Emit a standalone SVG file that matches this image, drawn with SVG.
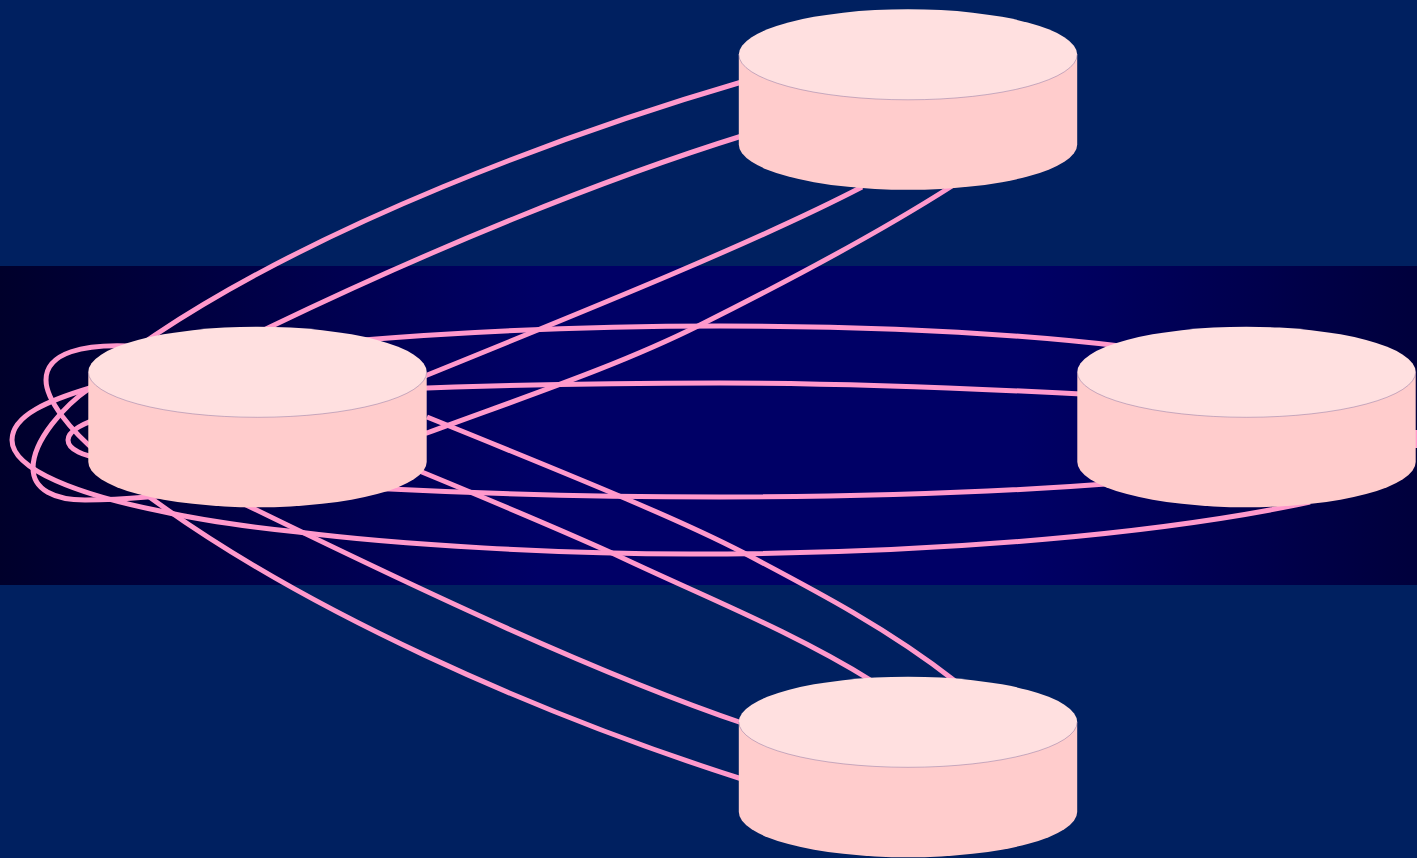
<svg xmlns="http://www.w3.org/2000/svg" width="1417" height="858" viewBox="0 0 1417 858">
<style>
.edge{fill:none;stroke:#ff99cc;stroke-width:5}
.side{fill:#ffcccc}
.top{fill:#ffe0e0}
.rim{fill:none;stroke:#5a4a8a;stroke-width:.35}
</style>
<defs>
<linearGradient id="band" x1="0" x2="1" y1="0" y2="0">
<stop offset="0" stop-color="#00002b"/><stop offset=".38" stop-color="#000066"/><stop offset=".72" stop-color="#000066"/><stop offset="1" stop-color="#00003c"/>
</linearGradient>
<g id="cyl">
<path class="side" d="M-169.200,0V90A169.200,45.300 0 0 0 169.200,90V0Z"/>
<ellipse class="top" cx="0" cy="0" rx="169.200" ry="45.300"/>
<path class="rim" d="M-169.200,0A169.200,45.300 0 0 0 169.200,0"/>
</g>
</defs>
<rect width="1417" height="858" fill="#002060"/>
<rect y="266" width="1417" height="319" fill="url(#band)"/>
<g id="connectors">
<path class="edge" d="M745,81C560,135 320,225 155,335C125,355 105,375 90,388C65,405 33,440 33,468C33,490 55,500 85,500C105,500 125,499 147,497C220,490 300,486 390,489C490,494 600,497 720,497C860,497 990,493 1120,483"/>
<path class="edge" d="M745,135C600,180 430,250 270,327C240,342 220,350 200,360"/>
<path class="edge" d="M862,187C760,240 600,305 410,382"/>
<path class="edge" d="M952,186C880,232 800,275 700,325C620,365 530,395 427,433C300,405 150,400 110,415C85,422 68,430 68,440C68,450 85,456 100,458"/>
<path class="edge" d="M1120,346C1000,332 860,326 720,326C600,326 480,330 350,341"/>
<path class="edge" d="M130,346C85,344 46,352 46,380C46,400 70,430 100,455"/>
<path class="edge" d="M1100,395C950,387 830,383 720,383C600,383 500,385 400,389"/>
<path class="edge" d="M90,388C50,400 12,415 12,440C12,470 80,495 160,511C200,520 240,526 298,532C400,545 560,554 690,554C950,554 1170,532 1310,502"/>
<path class="edge" d="M955,681C890,630 820,593 744,553C690,525 620,495 427,417"/>
<path class="edge" d="M872,681C790,630 700,595 612,553C550,525 490,500 400,463"/>
<path class="edge" d="M745,724C600,675 420,590 240,502"/>
<path class="edge" d="M745,780C540,715 300,610 140,490"/>
<path class="edge" d="M1417,430V448"/>
</g>
<g id="node-top"><use href="#cyl" x="908" y="54.500"/></g>
<g id="node-left"><use href="#cyl" x="257.500" y="372"/></g>
<g id="node-right"><use href="#cyl" x="1246.500" y="372"/></g>
<g id="node-bottom"><use href="#cyl" x="908" y="722"/></g>
</svg>
